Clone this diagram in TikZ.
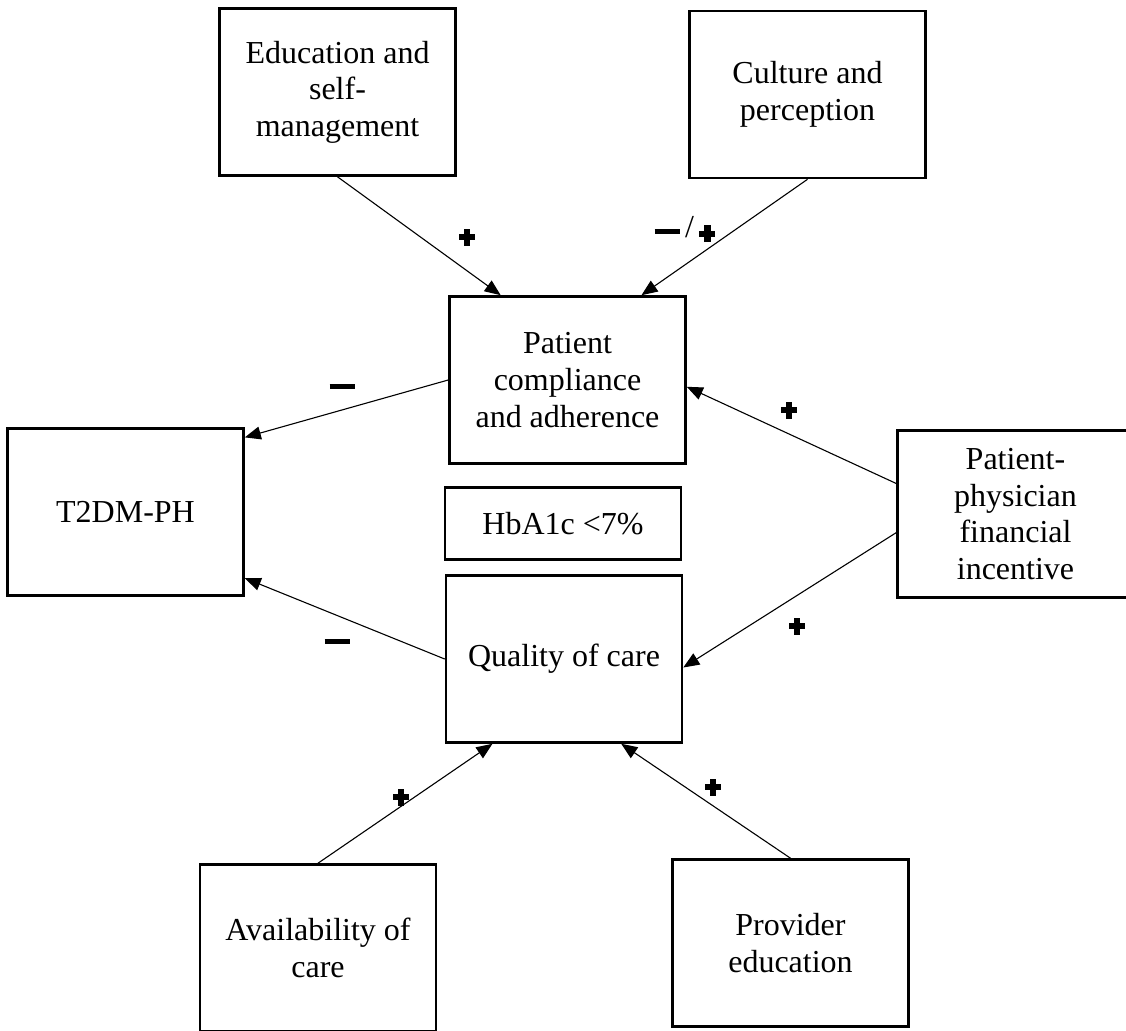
\documentclass[tikz,border=0pt]{standalone}
\usepackage{fontspec}
\setmainfont{Liberation Serif}
\usetikzlibrary{arrows.meta,positioning,calc}

% heavy plus and minus marks
\newcommand{\possign}{\makebox[8pt]{\rule[0.25pt]{8pt}{3pt}\llap{\makebox[8pt]{\rule[-2.5pt]{3.3pt}{8.5pt}}}}}
\newcommand{\negsign}{\rule[1.5pt]{12.5pt}{2.7pt}}

\begin{document}
\begin{tikzpicture}[x=0.5pt,y=-0.5pt,
  box/.style={draw,line width=1.3pt,minimum width=118pt,minimum height=83.5pt,
    align=center,inner sep=2pt,font=\fontsize{16}{18.3}\selectfont},
  link/.style={-{Triangle[length=8pt,width=6.5pt]},line width=0.55pt},
  sign/.style={inner sep=0pt,font=\fontsize{16}{18}\selectfont}]

\useasboundingbox (0,0) rectangle (1126,1030);

% boxes
\node[box] (edu) at (337.5,92) {Education and\\self-\\management};
\node[box] (cult) at (807.5,94.5) {Culture and\\perception};
\node[box] (pat) at (567.5,380) {Patient\\compliance\\and adherence};
\node[box] (t2dm) at (125.5,512) {T2DM-PH};
\node[box,minimum height=36pt] (hba) at (563,523.5) {HbA1c <7\%};
\node[box] (qual) at (564,659) {Quality of care};
\node[box] (ppfi) at (1015.5,514) {Patient-\\physician\\financial\\incentive};
\node[box] (avail) at (318,948) {Availability of\\care};
\node[box] (prov) at (790.5,943) {Provider\\education};

% arrows
\draw[link] (edu.south) -- ($(pat.north west)!0.22!(pat.north east)$);
\draw[link] (cult.south) -- ($(pat.north west)!0.81!(pat.north east)$);
\draw[link] (pat.west) -- ($(t2dm.north east)!0.06!(t2dm.south east)$);
\draw[link] ($(ppfi.north west)!0.32!(ppfi.south west)$) -- ($(pat.north east)!0.54!(pat.south east)$);
\draw[link] ($(ppfi.north west)!0.61!(ppfi.south west)$) -- ($(qual.north east)!0.55!(qual.south east)$);
\draw[link] (qual.west) -- ($(t2dm.north east)!0.89!(t2dm.south east)$);
\draw[link] (avail.north) -- ($(qual.south west)!0.2!(qual.south east)$);
\draw[link] (prov.north) -- ($(qual.south west)!0.74!(qual.south east)$);

% signs
\node[sign] (s1) at (467,237) {\possign};
\node[sign] (s2) at (685,229) {\negsign\,/\,\possign};
\node[sign] (s3) at (342,388) {\negsign};
\node[sign] (s4) at (789,410) {\possign};
\node[sign] (s5) at (797,626) {\possign};
\node[sign] (s6) at (337,643) {\negsign};
\node[sign] (s7) at (401,797) {\possign};
\node[sign] (s8) at (713,787) {\possign};
\end{tikzpicture}
\end{document}
